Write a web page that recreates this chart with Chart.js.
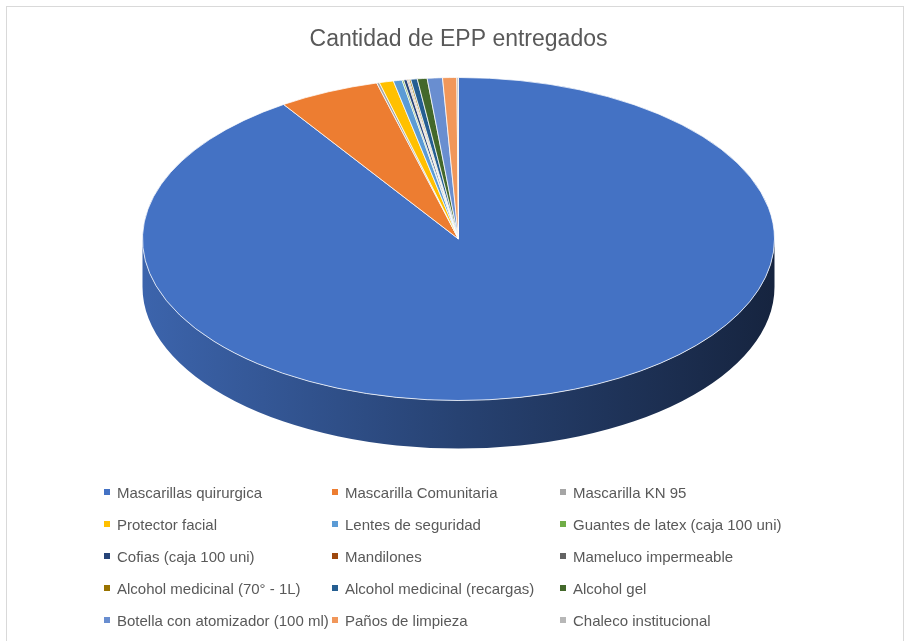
<!DOCTYPE html>
<html>
<head>
<meta charset="utf-8">
<script src="https://cdn.jsdelivr.net/npm/chart.js@4.4.1/dist/chart.umd.min.js"></script>
<style>
  html, body { margin: 0; padding: 0; background: #fff; width: 906px; height: 641px; overflow: hidden; }
  #frame { position: absolute; left: 6px; top: 6px; width: 898px; height: 700px; border: 1px solid #d9d9d9; box-sizing: border-box; }
  #myChart { position: absolute; left: 0; top: 0; }
  #legend { position: absolute; left: 104px; top: 476px; display: grid; grid-template-columns: 228px 228px 260px;
            font: 15px 'Liberation Sans', Arial, sans-serif; color: #595959; }
  .item { height: 32px; display: flex; align-items: center; white-space: nowrap; }
  .box { width: 6px; height: 6px; margin-right: 7px; flex: none; }
</style>
</head>
<body>
<div id="frame"></div>
<canvas id="myChart" width="906" height="720"></canvas>
<div id="legend"></div>
<script>
// categorias (orden de la leyenda = orden de los sectores)
const labels = [
  'Mascarillas quirurgica', 'Mascarilla Comunitaria', 'Mascarilla KN 95',
  'Protector facial', 'Lentes de seguridad', 'Guantes de latex (caja 100 uni)',
  'Cofias (caja 100 uni)', 'Mandilones', 'Mameluco impermeable',
  'Alcohol medicinal (70° - 1L)', 'Alcohol medicinal (recargas)', 'Alcohol gel',
  'Botella con atomizador (100 ml)', 'Paños de limpieza', 'Chaleco institucional'
];

// cantidades (estimadas del grafico)
const values = [32640, 1860, 50, 260, 160, 30, 60, 20, 20, 30, 120, 180, 280, 260, 30];

const colors = [
  '#4472C4', '#ED7D31', '#A5A5A5', '#FFC000', '#5B9BD5', '#70AD47',
  '#264478', '#9E480E', '#636363', '#997300', '#255E91', '#43682B',
  '#698ED0', '#F1975A', '#B7B7B7'
];

// efecto 3D: elipse + lateral
const topY = 239;
const yScale = 161 / 315;
const depth = 48;

function shade(hex, f) {
  const n = parseInt(hex.slice(1), 16);
  const r = Math.round(((n >> 16) & 255) * f);
  const g = Math.round(((n >> 8) & 255) * f);
  const b = Math.round((n & 255) * f);
  return `rgb(${r},${g},${b})`;
}

const tilt = {
  id: 'tilt',
  beforeDatasetsDraw(chart) {
    const ctx = chart.ctx;
    const arcs = chart.getDatasetMeta(0).data;
    const cx = arcs[0].x, cy = arcs[0].y, r = arcs[0].outerRadius;
    const ry = r * yScale;

    ctx.save();
    arcs.forEach((arc, i) => {
      [0, 2 * Math.PI].forEach(k => {
        const s = Math.max(arc.startAngle, k);
        const e = Math.min(arc.endAngle, k + Math.PI);
        if (s >= e) return;
        const grad = ctx.createLinearGradient(cx - r, 0, cx + r, 0);
        grad.addColorStop(0, shade(colors[i], 0.88));
        grad.addColorStop(0.5, shade(colors[i], 0.58));
        grad.addColorStop(1, shade(colors[i], 0.32));
        ctx.beginPath();
        ctx.ellipse(cx, topY, r, ry, 0, s, e);
        ctx.ellipse(cx, topY + depth, r, ry, 0, e, s, true);
        ctx.closePath();
        ctx.fillStyle = grad;
        ctx.fill();
      });
    });
    ctx.restore();

    ctx.save();
    ctx.translate(0, topY);
    ctx.scale(1, yScale);
    ctx.translate(0, -cy);
  },
  afterDatasetsDraw(chart) {
    chart.ctx.restore();
  }
};

const ctx = document.getElementById('myChart').getContext('2d');
new Chart(ctx, {
  type: 'pie',
  data: {
    labels,
    datasets: [{
      data: values,
      backgroundColor: colors,
      borderColor: '#ffffff',
      borderWidth: 1
    }]
  },
  options: {
    responsive: false,
    animation: false,
    layout: { padding: { left: 142, right: 131, top: 0, bottom: 0 } },
    plugins: {
      legend: { display: false },
      tooltip: { enabled: false },
      title: {
        display: true,
        text: 'Cantidad de EPP entregados',
        color: '#595959',
        font: { family: "'Liberation Sans', Arial, sans-serif", size: 23, weight: 'normal' },
        padding: { top: 26, bottom: 10 }
      }
    }
  },
  plugins: [tilt]
});

// leyenda en 3 columnas
const legend = document.getElementById('legend');
labels.forEach((label, i) => {
  const item = document.createElement('div');
  item.className = 'item';
  item.innerHTML = `<span class="box" style="background:${colors[i]}"></span><span>${label}</span>`;
  legend.appendChild(item);
});
</script>
</body>
</html>
